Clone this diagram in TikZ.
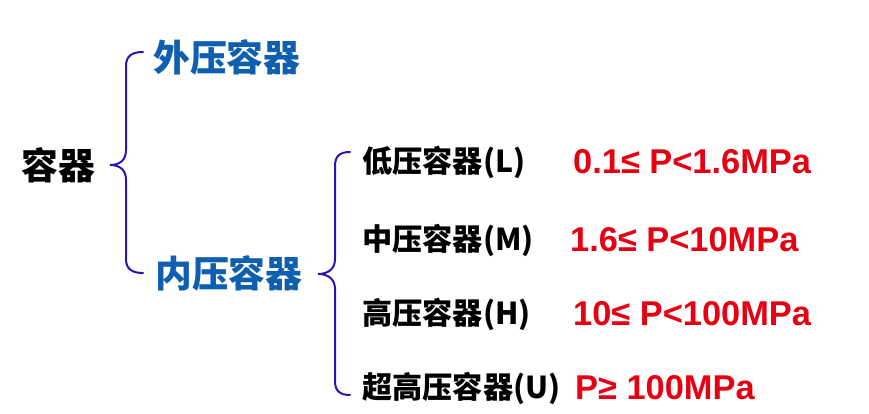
\documentclass[tikz,border=0pt]{standalone}
\usepackage{fontspec}
\newfontfamily\cjk{Noto Sans CJK SC}
\newfontfamily\lat{Liberation Sans}
\definecolor{tblue}{HTML}{0F5FB0}
\definecolor{bblue}{HTML}{2A14B4}
\definecolor{tred}{HTML}{E60012}
\begin{document}
\begin{tikzpicture}[x=1pt,y=-1pt,
  big/.style={inner sep=0pt,anchor=west,font=\cjk\bfseries\fontsize{36.8}{40}\selectfont},
  sub/.style={inner sep=0pt,anchor=west,font=\cjk\bfseries\fontsize{30.2}{34}\selectfont},
  val/.style={inner sep=0pt,anchor=west,text=tred,font=\lat\bfseries\fontsize{34.4}{38}\selectfont},
  brace/.style={draw=bblue,line width=2pt,line cap=round}]
\useasboundingbox (0,0) rectangle (869,414);
\node[big] (root) at (21,165) {容器};
\node[big,text=tblue] (ext) at (153,57) {外压容器};
\node[big,text=tblue] (int) at (155,273) {内压容器};
\node[sub] (low) at (362,162) {低压容器(L)};
\node[sub] (mid) at (362,240) {中压容器(M)};
\node[sub] (high) at (362,314) {高压容器(H)};
\node[sub] (ultra) at (362,388) {超高压容器(U)};
\node[val] (vlow) at (573,162) {0.1≤ P<1.6MPa};
\node[val] (vmid) at (570,240) {1.6≤ P<10MPa};
\node[val] (vhigh) at (573,314) {10≤ P<100MPa};
\node[val] (vultra) at (575,388) {P≥ 100MPa};
% brace 1
\coordinate (b1t) at (143,52);
\coordinate (b1m) at (110,165);
\coordinate (b1b) at (143,273);
\draw[brace] (b1t) .. controls (132,52) and (126,56) .. (126,66)
  -- (126,150) .. controls (126,160) and (120,165) .. (b1m)
  .. controls (120,165) and (126,170) .. (126,180)
  -- (126,259) .. controls (126,269) and (132,273) .. (b1b);
% brace 2
\coordinate (b2t) at (350,152);
\coordinate (b2m) at (318,274);
\coordinate (b2b) at (350,395);
\draw[brace] (b2t) .. controls (340,152) and (335,156) .. (335,166)
  -- (335,259) .. controls (335,269) and (328,274) .. (b2m)
  .. controls (328,274) and (335,279) .. (335,289)
  -- (335,381) .. controls (335,391) and (340,395) .. (b2b);
\end{tikzpicture}
\end{document}
